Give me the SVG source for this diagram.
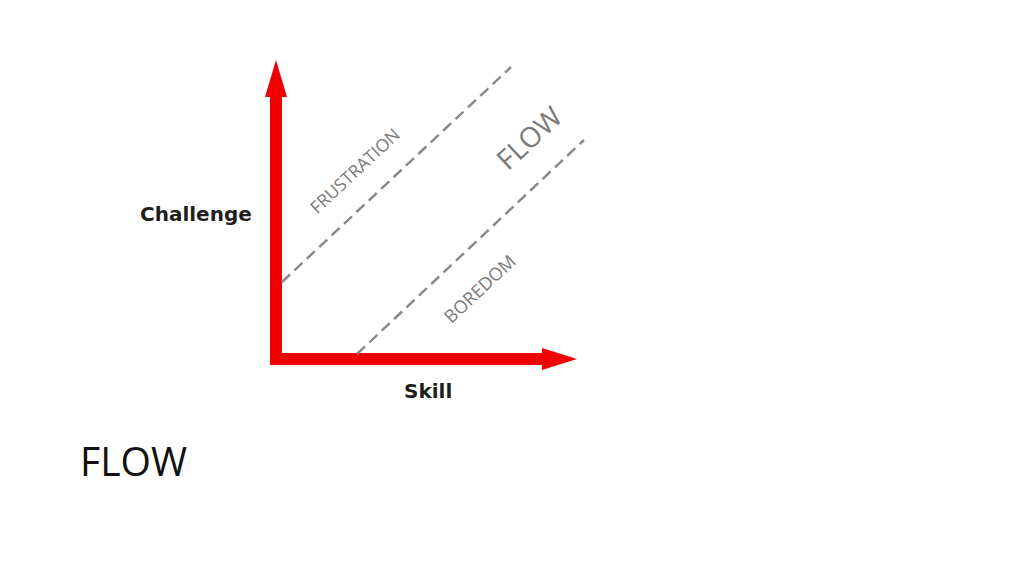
<svg xmlns="http://www.w3.org/2000/svg" width="1024" height="576" viewBox="0 0 1024 576">
<style>
.axis{fill:#f00000}
.dash{stroke:#8a8a8a;stroke-width:2.5;stroke-dasharray:11 6;fill:none}
.lbl{font-family:"DejaVu Sans",sans-serif;font-weight:bold;font-size:20px;fill:#1e1e1e}
.zone{font-family:"Open Sans","Liberation Sans",sans-serif;fill:#7a7a7a}
</style>
<rect width="1024" height="576" fill="#ffffff"/>
<g id="axes">
<rect class="axis" x="270" y="95" width="12" height="270"/>
<polygon class="axis" points="276,60 287,97 265,97"/>
<rect class="axis" x="270" y="353" width="274" height="12"/>
<polygon class="axis" points="577,359 542,348 542,370"/>
</g>
<g id="connectors">
<line class="dash" x1="282" y1="282" x2="511" y2="67"/>
<line class="dash" x1="357" y1="354" x2="584" y2="140"/>
</g>
<g id="labels">
<text class="lbl" x="140" y="221">Challenge</text>
<text class="lbl" x="404" y="398">Skill</text>
<text class="zone" font-size="17.5" transform="translate(356,172) rotate(-43)" text-anchor="middle" dominant-baseline="middle">FRUSTRATION</text>
<text class="zone" font-size="28" transform="translate(531,140) rotate(-43)" text-anchor="middle" dominant-baseline="middle">FLOW</text>
<text class="zone" font-size="18" transform="translate(481,290) rotate(-43)" text-anchor="middle" dominant-baseline="middle">BOREDOM</text>
<text x="80" y="476" font-family="Open Sans, Liberation Sans, sans-serif" font-size="40" fill="#111" textLength="107" lengthAdjust="spacingAndGlyphs">FLOW</text>
</g>
</svg>
